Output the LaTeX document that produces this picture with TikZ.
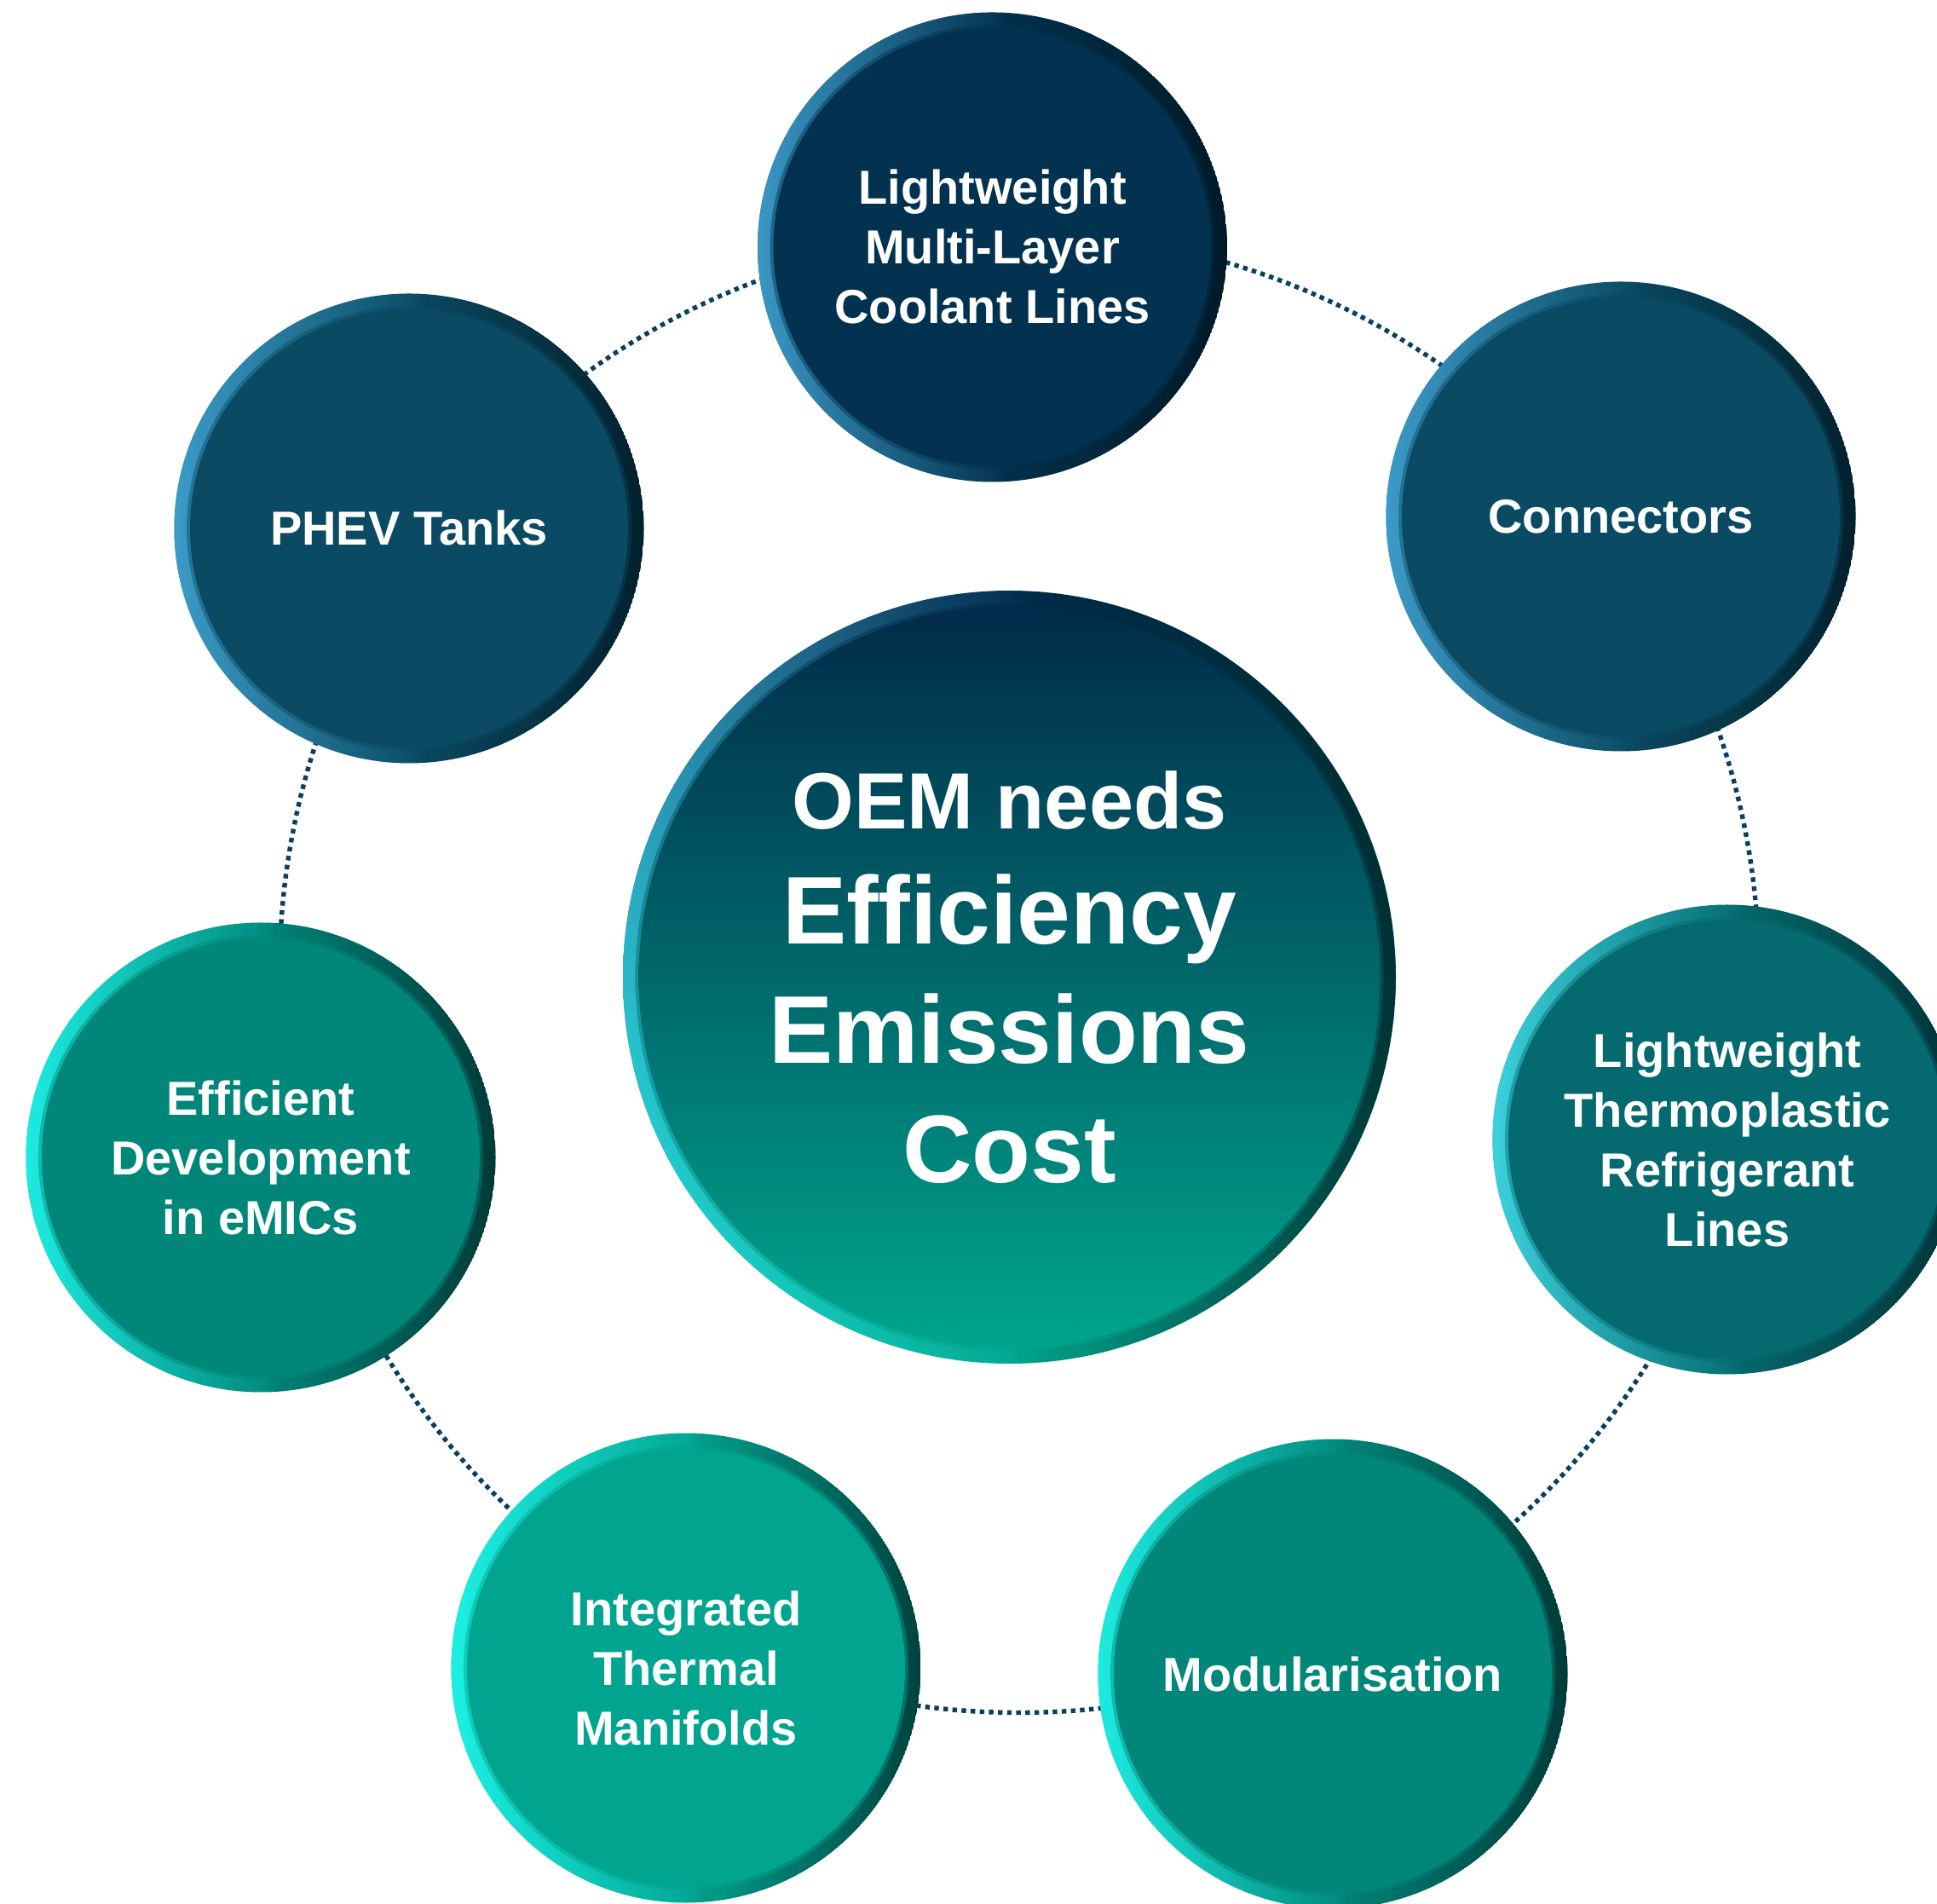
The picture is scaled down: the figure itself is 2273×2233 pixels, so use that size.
\documentclass[tikz,border=0pt]{standalone}
\usepackage{fontspec}
\setmainfont{Liberation Sans}
\usetikzlibrary{fadings}

% face colours
\definecolor{faceNavy}{HTML}{02324F}
\definecolor{facePetrol}{HTML}{0A4A62}
\definecolor{faceDeepTeal}{HTML}{056A70}
\definecolor{faceTeal}{HTML}{00877A}
\definecolor{faceMint}{HTML}{00A48F}
\definecolor{hubTop}{HTML}{012B4A}
\definecolor{hubBottom}{HTML}{00A58D}
% rim colours
\definecolor{rimBlue}{HTML}{45AADB}
\definecolor{rimCyan}{HTML}{22FFF4}
\definecolor{rimAqua}{HTML}{45E4F0}
\definecolor{rimHubTop}{HTML}{3F94C6}
\definecolor{rimHubBottom}{HTML}{26FBF0}
\definecolor{rimDarkNavy}{HTML}{00121A}
\definecolor{rimDarkTeal}{HTML}{001F22}
\definecolor{ringLine}{HTML}{0B3F5E}

% bevel light on the left, shadow on the right
\pgfdeclarehorizontalshading{rimlightshade}{100bp}{color(0bp)=(pgftransparent!0); color(20bp)=(pgftransparent!0); color(52bp)=(pgftransparent!100); color(100bp)=(pgftransparent!100)}
\pgfdeclarefading{rimlight}{\pgfuseshading{rimlightshade}}
\pgfdeclarehorizontalshading{rimshadowshade}{100bp}{color(0bp)=(pgftransparent!100); color(50bp)=(pgftransparent!100); color(84bp)=(pgftransparent!0); color(100bp)=(pgftransparent!0)}
\pgfdeclarefading{rimshadow}{\pgfuseshading{rimshadowshade}}

\tikzset{
  bubble/.style n args={3}{
    circle, inner sep=0pt, minimum size=275.5pt,
    text=white, align=center, font=\fontsize{28}{35}\selectfont\bfseries,
    path picture={
      \coordinate (bc) at (path picture bounding box.center);
      \fill[#1] (bc) circle[radius=137.75pt];
      \fill[#2, path fading=rimlight] (bc) circle[radius=137.75pt];
      \fill[#3, path fading=rimshadow] (bc) circle[radius=137.75pt];
      \fill[#1, opacity=.45] (bc) circle[radius=130.5pt];
      \fill[#1] (bc) circle[radius=128.5pt];
    }
  },
  hubbubble/.style={
    circle, inner sep=0pt, minimum size=453.5pt,
    text=white, align=center, font=\fontsize{56.4}{70}\selectfont\bfseries,
    path picture={
      \coordinate (bc) at (path picture bounding box.center);
      \shade[top color=hubTop, bottom color=hubBottom] (bc) circle[radius=226.75pt];
      \shade[top color=rimHubTop, bottom color=rimHubBottom, path fading=rimlight] (bc) circle[radius=226.75pt];
      \fill[rimDarkTeal, path fading=rimshadow] (bc) circle[radius=226.75pt];
      \shade[top color=hubTop, bottom color=hubBottom, opacity=.45] (bc) circle[radius=219.5pt];
      \shade[top color=hubTop, bottom color=hubBottom] (bc) circle[radius=217.5pt];
    }
  },
  ring/.style={draw=ringLine, line width=2.7pt, dash pattern=on 2.7pt off 2.65pt}
}

\begin{document}
\begin{tikzpicture}[x=0.5pt, y=0.5pt]
  \useasboundingbox (0,0) rectangle (2273,2233);
  \clip (0,0) rectangle (2273,2233);
  \fill[white] (0,0) rectangle (2273,2233);

  % central hub
  \node[hubbubble] (hub) at (1184.5,1086.5)
    {{\fontsize{46.8}{56}\selectfont OEM needs}\\[-2.5pt]Efficiency\\Emissions\\Cost};

  % dotted ring linking the satellites
  \draw[ring] ([shift={(11.5,5)}]hub.center) circle[radius=434pt];

  % satellites, clockwise from the top
  \node[bubble={faceNavy}{rimBlue}{rimDarkNavy}] (coolant) at (1164.5,1943)
    {Lightweight\\Multi-Layer\\Coolant Lines};
  \node[bubble={facePetrol}{rimBlue}{rimDarkNavy}] (connectors) at (1902,1627)
    {Connectors};
  \node[bubble={faceDeepTeal}{rimAqua}{rimDarkTeal}] (refrigerant) at (2027,896)
    {Lightweight\\Thermoplastic\\Refrigerant\\Lines};
  \node[bubble={faceTeal}{rimCyan}{rimDarkTeal}] (modular) at (1564,269)
    {Modularisation};
  \node[bubble={faceMint}{rimCyan}{rimDarkTeal}] (manifolds) at (805,276)
    {Integrated\\Thermal\\Manifolds};
  \node[bubble={faceTeal}{rimCyan}{rimDarkTeal}] (emics) at (306,875)
    {Efficient\\Development\\in eMICs};
  \node[bubble={facePetrol}{rimBlue}{rimDarkNavy}] (phev) at (480,1613)
    {PHEV Tanks};
\end{tikzpicture}
\end{document}
